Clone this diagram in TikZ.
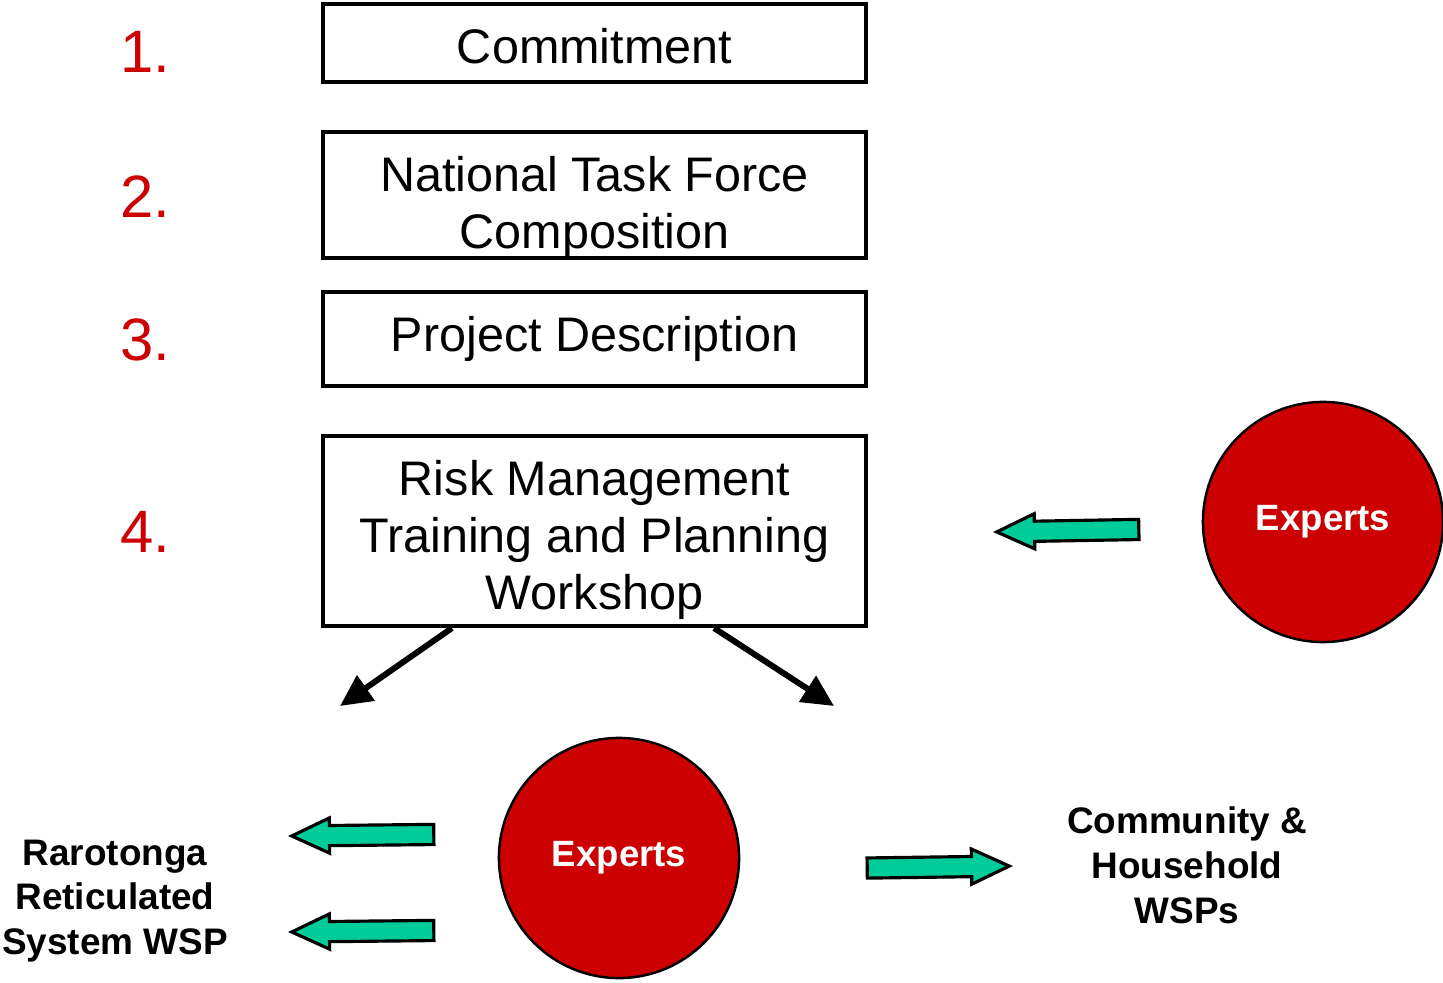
\documentclass[tikz,border=0pt]{standalone}
\usepackage{fontspec}
\setmainfont{Liberation Sans}
\usepackage{xcolor}
\usetikzlibrary{shapes,shapes.arrows,arrows.meta,positioning,calc}
\definecolor{stepred}{HTML}{CC0000}
\definecolor{flowgreen}{HTML}{00CC99}

\begin{document}
\begin{tikzpicture}[
    x=0.01cm, y=-0.01cm,
    box/.style={rectangle, draw, line width=1.15pt, minimum width=5.43cm},
    boxtext/.style={align=center, inner sep=0pt, font=\fontsize{13.8}{16.2}\selectfont},
    stepnum/.style={text=stepred, font=\fontsize{17}{20}\selectfont},
    expert/.style={circle, draw, line width=0.7pt, fill=stepred, minimum size=2.4cm, text=white, font=\fontsize{10.4}{12.75}\selectfont\bfseries},
    wsp/.style={align=center, font=\fontsize{10.5}{12.75}\selectfont\bfseries},
    flow/.style={single arrow, draw, line width=0.9pt, fill=flowgreen, minimum height=1.42cm, inner xsep=0pt, inner ysep=0.085cm, single arrow head extend=0.075cm, single arrow tip angle=50, anchor=tip},
    arrow/.style={-{Triangle[length=9pt,width=8.5pt]}, line width=1.7pt}
]
    \useasboundingbox (0,0) rectangle (1443,982);

    % Step boxes
    \node[box, minimum height=0.78cm, label={[boxtext, yshift=-0.03cm]center:Commitment}] (commit) at (594.5,43) {};
    \node[box, minimum height=1.26cm, label={[boxtext, yshift=-0.12cm]center:National Task Force\\Composition}] (taskforce) at (594.5,195) {};
    \node[box, minimum height=0.94cm, label={[boxtext]center:Project Description}] (project) at (594.5,339) {};
    \node[box, minimum height=1.90cm, label={[boxtext, yshift=-0.09cm]center:Risk Management\\Training and Planning\\Workshop}] (risk) at (594.5,531) {};

    % Step numbers
    \node[stepnum] (n1) at (145,52) {1.};
    \node[stepnum] (n2) at (145,197) {2.};
    \node[stepnum] (n3) at (145,340) {3.};
    \node[stepnum] (n4) at (145,532) {4.};

    % Experts
    \node[expert] (expertstop) at (1323,522) {Experts};
    \node[expert] (expertsbot) at (619,858) {Experts};

    % Outcome labels
    \node[wsp] (raro) at (115,901) {Rarotonga\\Reticulated\\System WSP};
    \node[wsp] (community) at (1187,865) {Community \&\\Household\\WSPs};

    % Green flow arrows (placed by their tips)
    \node[flow, rotate=181] (f1) at (993,532) {};
    \node[flow, rotate=180.6] (f2) at (288,836) {};
    \node[flow, rotate=180.6] (f3) at (288,932) {};
    \node[flow, rotate=0.8] (f4) at (1013,866) {};

    % Split arrows below workshop
    \coordinate (left end) at (340,706);
    \coordinate (right end) at (834,706);
    \draw[arrow] ([xshift=-1.425cm]risk.south) -- (left end);
    \draw[arrow] ([xshift=1.195cm]risk.south) -- (right end);
\end{tikzpicture}
\end{document}
